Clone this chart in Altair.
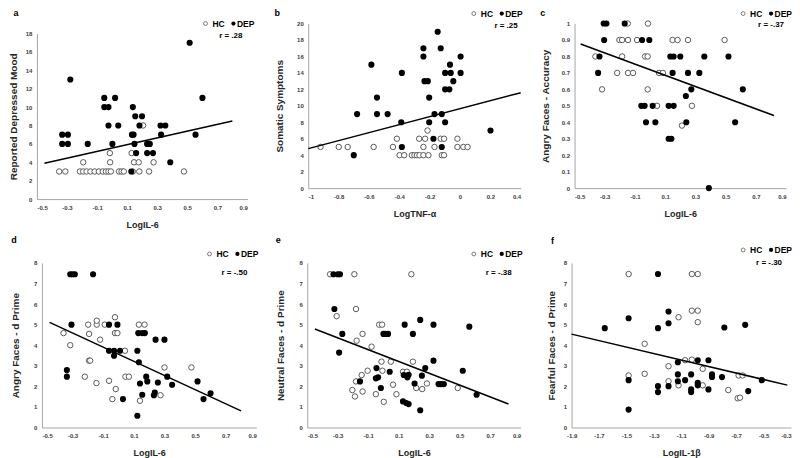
import altair as alt
import pandas as pd

FONT = "Liberation Sans"
MINUS = "\u2212"
LBL = f"replace(format(datum.value, '~g'), '{MINUS}', '-')"

# ---------------- panel a : LogIL-6 vs Reported Depressed Mood ----------------
a_hc_x = [-0.352, -0.311, -0.214, -0.192, -0.170, -0.144, -0.116, -0.088, -0.062, -0.041,
          -0.024, -0.008, 0.046, 0.063, 0.078, 0.138, 0.181, 0.246, 0.478,
          -0.192, -0.013, 0.146, 0.177, 0.276, -0.015, 0.130, 0.206]
a_hc_y = [3, 3, 3, 3, 3, 3, 3, 3, 3, 3, 3, 3, 3, 3, 3, 3, 3, 3, 3,
          4, 4, 4, 4, 4, 5, 5, 8]
a_dep_x = [-0.332, -0.294, -0.332, -0.294, -0.278, -0.162, -0.052, -0.052, -0.024, -0.024,
           0.002, 0.020, 0.041, 0.138, 0.132, 0.143, 0.154, 0.199, 0.182, 0.149,
           0.160, 0.128, 0.233, 0.251, 0.233, 0.272, 0.326, 0.322, 0.354, 0.387,
           0.516, 0.555, 0.601]
a_dep_y = [7, 7, 6, 6, 13, 6, 11, 10, 10, 8,
           6, 11, 8, 10, 7, 7, 9, 9, 8, 6,
           5, 3, 6, 6, 5, 5, 7, 8, 8, 4,
           17, 7, 11]
a_line_x = [-0.45, 0.80]
a_line_y = [3.9, 8.5]

# ---------------- panel b : LogTNF-a vs Somatic Symptoms ----------------
b_hc_x = [-0.919, -0.799, -0.740, -0.569, -0.442, -0.416, -0.398, -0.368, -0.317, -0.300,
          -0.284, -0.267, -0.241, -0.208, -0.269, -0.230, -0.241, -0.214, -0.168, -0.127,
          -0.105, -0.120, -0.105, -0.017, -0.017, 0.022, 0.050]
b_hc_y = [5, 5, 5, 5, 5, 6, 4, 4, 4, 4,
          4, 4, 4, 4, 6, 6, 5, 7, 5, 6,
          6, 4, 4, 6, 5, 5, 5]
b_dep_x = [-0.700, -0.678, -0.584, -0.547, -0.547, -0.477, -0.383, -0.387, -0.383, -0.241,
           -0.241, -0.234, -0.212, -0.203, -0.203, -0.168, -0.175, -0.147, -0.127, -0.120,
           -0.120, -0.098, -0.098, -0.098, -0.066, -0.061, -0.070, -0.044, 0.004, 0.004,
           0.201]
b_dep_y = [4, 9, 15, 11, 9, 9, 14, 8, 5, 17,
           16, 13, 13, 11, 8, 9, 6, 19, 17, 9,
           5, 14, 12, 8, 15, 14, 12, 13, 16, 14,
           7]
b_line_x = [-1.0, 0.4]
b_line_y = [4.8, 11.6]

# ---------------- panel c : LogIL-6 vs Angry Faces - Accuracy ----------------
c_hc_x = [-0.148, -0.014,
          -0.203, -0.185, -0.146, -0.086, 0.149, 0.182, 0.251, 0.493,
          -0.362, -0.185, -0.033, -0.016,
          -0.218, -0.146, -0.113, 0.059, 0.085,
          -0.318, -0.016,
          0.046, 0.277,
          0.211]
c_hc_y = [1.0, 1.0,
          0.9, 0.9, 0.9, 0.9, 0.9, 0.9, 0.9, 0.9,
          0.8, 0.8, 0.8, 0.8,
          0.7, 0.7, 0.7, 0.7, 0.7,
          0.6, 0.6,
          0.5, 0.5,
          0.38]
c_dep_x = [-0.307, -0.289, -0.168, -0.304, -0.335, -0.344, -0.053, -0.005,
           -0.058, -0.036, 0.017, 0.123, 0.156,
           -0.027, 0.035, 0.240, 0.563,
           0.123, 0.141,
           0.134, 0.156, 0.200, 0.359, 0.519,
           0.149, 0.251, 0.326,
           0.273, 0.614,
           0.237,
           0.389]
c_dep_y = [1.0, 1.0, 1.0, 0.9, 0.8, 0.7, 0.9, 0.9,
           0.5, 0.5, 0.5, 0.5, 0.5,
           0.4, 0.4, 0.4, 0.4,
           0.3, 0.3,
           0.8, 0.8, 0.8, 0.8, 0.8,
           0.7, 0.7, 0.7,
           0.6, 0.6,
           0.56,
           0.0]
c_line_x = [-0.46, 0.82]
c_line_y = [0.876, 0.441]

# ---------------- panel d : LogIL-6 vs Angry Faces - d Prime ----------------
d_hc_x = [-0.359, -0.315, -0.198, -0.142, -0.090, -0.142, -0.192, -0.120, -0.192, -0.185,
          -0.220, -0.144, -0.062, -0.040, -0.018, -0.023, -0.023, -0.007, 0.042, 0.045,
          0.068, 0.133, 0.170, 0.300, 0.274, 0.140, 0.476]
d_hc_y = [4.59, 4.0, 5.0, 5.0, 5.0, 5.19, 4.55, 4.27, 3.25, 3.25,
          2.47, 2.16, 2.27, 1.38, 1.87, 5.36, 4.59, 4.59, 3.73, 2.47,
          2.47, 5.0, 5.0, 2.92, 1.57, 1.30, 2.92]
d_dep_x = [-0.315, -0.300, -0.285, -0.166, -0.307, -0.337, -0.337, -0.062, -0.007, -0.062,
           -0.029, 0.010, -0.029, 0.029, 0.123, 0.133, 0.129, 0.155, 0.172, 0.123,
           0.140, 0.155, 0.181, 0.188, 0.237, 0.231, 0.300, 0.242, 0.318, 0.257,
           0.350, 0.516, 0.555, 0.601]
d_dep_y = [7.45, 7.45, 7.45, 7.45, 5.0, 2.79, 2.47, 5.0, 5.0, 3.73,
           3.73, 3.73, 3.49, 1.38, 3.73, 3.17, 4.59, 4.59, 4.59, 0.57,
           2.14, 1.59, 2.47, 2.24, 1.70, 1.57, 4.27, 4.27, 2.47, 2.19,
           2.08, 2.24, 1.38, 1.66]
d_line_x = [-0.45, 0.80]
d_line_y = [5.11, 0.81]

# ---------------- panel e : LogIL-6 vs Neutral Faces - d Prime ----------------
e_hc_x = [-0.350, -0.191, 0.183, -0.307, -0.180, -0.137, -0.176, -0.078, -0.028, -0.009,
          -0.013, 0.048, 0.193, -0.143, -0.104, -0.007, -0.180, -0.204, -0.187, -0.137,
          -0.050, 0.002, 0.063, 0.085, 0.128, 0.154, 0.215, 0.254, 0.285, 0.487]
e_hc_y = [7.45, 7.45, 7.45, 5.41, 5.76, 4.55, 4.22, 3.93, 5.0, 5.0,
          3.2, 3.2, 3.2, 2.55, 2.76, 2.76, 2.24, 1.82, 1.51, 1.75,
          1.62, 1.25, 2.08, 1.62, 2.71, 2.71, 1.92, 1.87, 2.14, 1.92]
e_dep_x = [-0.328, -0.300, -0.285, -0.322, -0.270, -0.291, -0.154, -0.046, -0.050, -0.035,
           -0.017, 0.000, 0.013, 0.030, 0.041, 0.139, 0.128, 0.150, 0.165, 0.133,
           0.157, 0.165, 0.193, 0.204, 0.241, 0.252, 0.241, 0.274, 0.328, 0.328,
           0.361, 0.378, 0.396, 0.520, 0.563, 0.611]
e_dep_y = [7.45, 7.45, 7.45, 5.76, 4.55, 3.64, 2.24, 2.89, 2.39, 2.44,
           1.92, 4.55, 4.55, 4.55, 2.71, 5.0, 1.27, 1.19, 1.14, 2.55,
           2.44, 2.56, 4.55, 2.14, 5.23, 2.52, 0.84, 2.89, 5.0, 3.25,
           2.11, 2.11, 2.11, 2.76, 4.90, 1.59]
e_line_x = [-0.45, 0.82]
e_line_y = [4.79, 1.14]

# ---------------- panel f : LogIL-1b vs Fearful Faces - d Prime ----------------
f_hc_x = [-1.484, -1.484, -1.367, -1.367, -1.193, -1.193, -1.120, -1.120, -1.072, -1.023,
          -0.980, -1.023, -0.980, -0.980, -1.023, -0.944, -0.944, -0.757, -0.682, -0.653,
          -0.689, -0.672]
f_hc_y = [7.46, 2.53, 4.07, 2.61, 2.98, 2.25, 5.36, 2.05, 3.27, 7.46,
          7.46, 5.68, 5.68, 5.12, 3.30, 2.85, 2.05, 1.82, 2.53, 2.53,
          1.42, 1.45]
f_dep_x = [-1.658, -1.484, -1.484, -1.484, -1.270, -1.270, -1.270, -1.270, -1.193, -1.193,
           -1.193, -1.125, -1.125, -1.125, -1.072, -1.028, -1.028, -1.028, -0.980, -0.980,
           -0.980, -0.902, -0.902, -0.876, -0.876, -0.803, -0.786, -0.634, -0.612, -0.513]
f_dep_y = [4.83, 5.31, 2.30, 0.87, 7.46, 4.83, 2.01, 1.72, 5.64, 5.07,
           2.01, 3.17, 2.58, 2.25, 2.30, 2.58, 1.85, 1.72, 3.27, 2.17,
           2.05, 3.27, 1.85, 2.58, 2.46, 2.45, 4.86, 4.99, 1.77, 2.30]
f_line_x = [-1.9, -0.327]
f_line_y = [4.54, 2.06]

X_IL6 = [-0.5, -0.3, -0.1, 0.1, 0.3, 0.5, 0.7, 0.9]
X_TNF = [-1.0, -0.8, -0.6, -0.4, -0.2, 0.0, 0.2, 0.4]
X_IL1 = [-1.9, -1.7, -1.5, -1.3, -1.1, -0.9, -0.7, -0.5, -0.3]
Y_A = [0, 2, 4, 6, 8, 10, 12, 14, 16, 18]
Y_B = [0, 2, 4, 6, 8, 10, 12, 14, 16, 18, 20]
Y_C = [0, 0.1, 0.2, 0.3, 0.4, 0.5, 0.6, 0.7, 0.8, 0.9, 1.0]
Y_D = [0, 1, 2, 3, 4, 5, 6, 7, 8]


def txt(s, x, y, size, align="left", color="black"):
    return alt.Chart(pd.DataFrame({"t": [s]})).mark_text(
        font=FONT, fontWeight="bold", fontSize=size, align=align,
        baseline="middle", color=color
    ).encode(x=alt.value(x), y=alt.value(y), text="t:N")


def dot(x, y, is_open):
    d = alt.Chart(pd.DataFrame({"t": [0]}))
    if is_open:
        m = d.mark_circle(fill="white", stroke="#595959", strokeWidth=0.8, size=15, opacity=1)
    else:
        m = d.mark_circle(color="black", size=18, opacity=1)
    return m.encode(x=alt.value(x), y=alt.value(y))


def panel(letter, hc_x, hc_y, dep_x, dep_y, line_x, line_y, xdom, xvals, ydom, yvals,
          xtitle, ytitle, xoff, Wp, H, ytop, titlex, let_xy, leg_e, leg_y, r_text, r_xy,
          flush_last=False):
    xs = alt.Scale(domain=xdom, range=[xoff, xoff + Wp], nice=False, zero=False)
    ys = alt.Scale(domain=ydom, range=[H, ytop], nice=False, zero=False)
    xax_kw = dict(values=xvals, title=xtitle, labelExpr=LBL, labelPadding=5, titlePadding=10.5)
    if flush_last:
        xax_kw["labelAlign"] = {"condition": {"test": "datum.value > -0.35", "value": "right"},
                                "value": "center"}
    xax = alt.Axis(**xax_kw)
    yax = alt.Axis(values=yvals, title=ytitle, labelExpr=LBL, labelPadding=5, offset=-xoff,
                   titleX=titlex, titleAngle=270, titleBaseline="middle", titleAlign="center")
    X = alt.X("x:Q", scale=xs, axis=xax)
    Y = alt.Y("y:Q", scale=ys, axis=yax)
    hc = alt.Chart(pd.DataFrame({"x": hc_x, "y": hc_y})).mark_circle(
        fill="white", stroke="#5a5a5a", strokeWidth=1, size=30, opacity=1).encode(x=X, y=Y)
    dep = alt.Chart(pd.DataFrame({"x": dep_x, "y": dep_y})).mark_circle(
        color="black", size=38, opacity=1).encode(x=X, y=Y)
    ln = alt.Chart(pd.DataFrame({"x": line_x, "y": line_y})).mark_line(
        color="black", strokeWidth=1.5).encode(x=X, y=Y)
    E = xoff + leg_e
    layers = [
        hc, dep, ln,
        txt(letter, xoff + let_xy[0], let_xy[1], 9, align="center"),
        dot(E - 46, leg_y, True),
        txt("HC", E - 39, leg_y, 8.5),
        dot(E - 18, leg_y, False),
        txt("DEP", E - 14.5, leg_y, 8.5),
        txt(r_text, xoff + r_xy[0], r_xy[1], 8, align="right"),
    ]
    return alt.layer(*layers).properties(width=xoff + Wp, height=H)


pa = panel("a", a_hc_x, a_hc_y, a_dep_x, a_dep_y, a_line_x, a_line_y,
           [-0.5, 0.9], X_IL6, [0, 18], Y_A, "LogIL-6", "Reported Depressed Mood",
           0, 211, 176, 10, -23, (-21, -10.5), 215, 0, "r = .28", (206, 13))
pb = panel("b", b_hc_x, b_hc_y, b_dep_x, b_dep_y, b_line_x, b_line_y,
           [-1.0, 0.4], X_TNF, [0, 20], Y_B, "LogTNF-\u03b1", "Somatic Symptoms",
           7, 213, 165, 0, -29, (-31, -10.5), 212, -10, "r = .25", (210, 2))
pc = panel("c", c_hc_x, c_hc_y, c_dep_x, c_dep_y, c_line_x, c_line_y,
           [-0.5, 0.9], X_IL6, [0, 1], Y_C, "LogIL-6", "Angry Faces - Accuracy",
           0, 212, 165, 0, -29, (-32, -10.5), 215, -10, "r = -.37", (210, 1))
pd_ = panel("d", d_hc_x, d_hc_y, d_dep_x, d_dep_y, d_line_x, d_line_y,
            [-0.5, 0.9], X_IL6, [0, 8], Y_D, "LogIL-6", "Angry Faces - d Prime",
            5, 215, 165, 0, -26, (-28, -23), 214, -9, "r = -.50", (206, 10))
pe = panel("e", e_hc_x, e_hc_y, e_dep_x, e_dep_y, e_line_x, e_line_y,
           [-0.5, 0.9], X_IL6, [0, 8], Y_D, "LogIL-6", "Neutral Faces - d Prime",
           6, 214, 165, 0, -27, (-29, -23), 213, -9, "r = -.38", (205, 10))
pf = panel("f", f_hc_x, f_hc_y, f_dep_x, f_dep_y, f_line_x, f_line_y,
           [-1.9, -0.3], X_IL1, [0, 8], Y_D, "LogIL-1\u03b2", "Fearful Faces - d Prime",
           6, 220, 165, 0, -20, (-19, -22), 218, -13, "r = -.30", (211, 0),
           flush_last=True)

row1 = alt.hconcat(pa, pb, pc, spacing=54, bounds="flush")
row2 = alt.hconcat(pd_, pe, pf, spacing=45, bounds="flush")

chart = alt.vconcat(row1, row2, spacing=6).properties(
    padding={"left": 0, "top": 0, "right": 0, "bottom": 0}
).configure_view(stroke=None).configure_axis(
    grid=False, ticks=False, domainColor="#a6a6a6", domainWidth=1,
    labelFont=FONT, labelFontWeight="bold", labelFontSize=6, labelColor="#404040",
    titleFont=FONT, titleFontWeight="bold", titleColor="#262626",
).configure_axisX(titleFontSize=9).configure_axisY(titleFontSize=10)

chart.save("out.html", embed_options={"renderer": "svg", "actions": False})
